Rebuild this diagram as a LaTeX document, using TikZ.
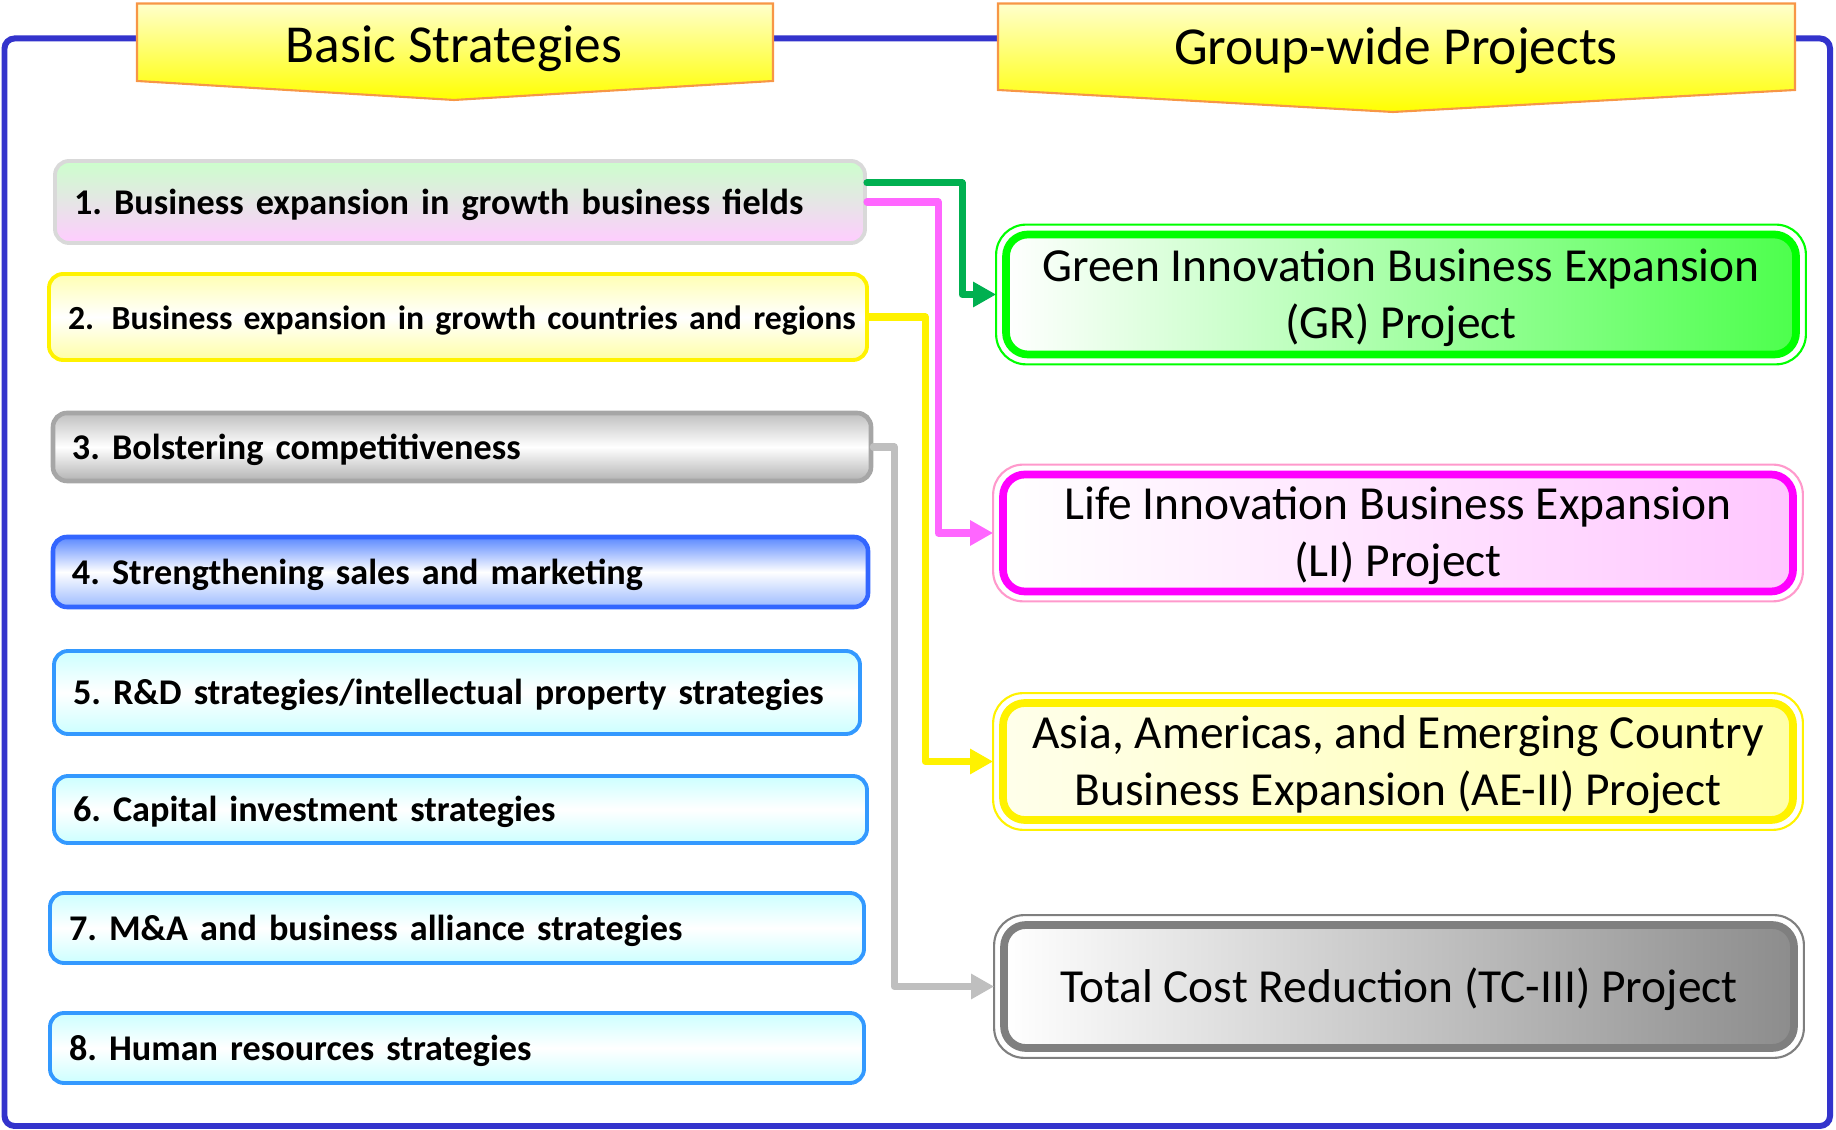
\documentclass[tikz,border=0pt]{standalone}
\usepackage{fontspec}
\setmainfont{Carlito}
\usepackage{tikz}
\usetikzlibrary{arrows.meta}

\definecolor{frameblue}{HTML}{3333CC}
\definecolor{hdrorange}{HTML}{F79646}
\definecolor{hdrlight}{HTML}{FFFFCC}
\definecolor{linkgreen}{HTML}{00B050}
\definecolor{linkpink}{HTML}{FF66FF}
\definecolor{linkgrey}{HTML}{BFBFBF}
\definecolor{lightmint}{HTML}{CCFFCC}
\definecolor{lightpink}{HTML}{FFCCFF}
\definecolor{lightcyan}{HTML}{CCFFFF}
\definecolor{skyblue}{HTML}{3399FF}
\definecolor{royal}{HTML}{3366FF}
\definecolor{royallight}{HTML}{5A88FF}
\definecolor{royalpale}{HTML}{9DBBFF}
\definecolor{projgrey}{HTML}{7F7F7F}
\definecolor{projpink}{HTML}{FF00FF}
\definecolor{thinpink}{HTML}{FF99CC}

\begin{document}
\begin{tikzpicture}[
	hdr/.style={draw=hdrorange, line width=0.6pt, top color=hdrlight, bottom color=yellow},
	hdrtext/.style={font=\fontsize{15.2}{18}\selectfont},
	strat/.style={draw, rounded corners=0.14cm, line width=1.1pt, inner xsep=0.19cm,
		text height=7.7pt, text depth=0.6pt,
		align=left, font=\fontsize{10.3}{12.4}\selectfont\bfseries\frenchspacing},
	cyanbox/.style={strat, draw=skyblue, top color=lightcyan, bottom color=lightcyan, middle color=white},
	proj/.style={draw, line width=2.2pt, rounded corners=0.22cm, minimum width=7.9cm,
		text depth=0.6pt, align=center, font=\fontsize{13.5}{16.2}\selectfont},
	link/.style={line width=2pt, line join=round, line cap=round,
		-{Triangle[length=0.23cm, width=0.24cm]}, shorten >=0.06cm}
	]
	\useasboundingbox (0,0) rectangle (18.36,-11.30);
	
	% outer frame
	\draw[frameblue, line width=1.7pt, rounded corners=0.1cm] (0.045,-0.385) rectangle (18.30,-11.26);
	
	% headers
	\draw[hdr] (1.37,-0.035) -- (7.73,-0.035) -- (7.73,-0.81) -- (4.54,-1.00) -- (1.37,-0.81) -- cycle;
	\node[hdrtext] (hBS) at (4.54,-0.485) {Basic Strategies};
	\draw[hdr] (9.98,-0.035) -- (17.95,-0.035) -- (17.95,-0.90) -- (13.93,-1.12) -- (9.98,-0.90) -- cycle;
	\node[hdrtext] (hGP) at (13.96,-0.505) {Group-wide Projects};
	
	% basic strategies (left)
	\node[strat, draw=black!15, top color=lightmint, bottom color=lightpink,
		text width=7.72cm, minimum height=0.82cm] (S1) at (4.60,-2.02)
		{1. Business expansion in growth business fields};
	\node[strat, draw=yellow, top color=yellow!30, bottom color=yellow!35, middle color=white,
		font=\fontsize{9.6}{12}\selectfont\bfseries\frenchspacing,
		text width=7.80cm, minimum height=0.86cm] (S2) at (4.58,-3.17)
		{\mbox{2.\hspace{0.52em}Business expansion in growth countries and regions}};
	\node[strat, draw=black!35, line width=1.3pt, top color=black!25, bottom color=black!30, middle color=white,
		text width=7.80cm, minimum height=0.68cm] (S3) at (4.62,-4.47)
		{3. Bolstering competitiveness};
	\node[strat, draw=royal, line width=1.3pt, top color=royallight, bottom color=royalpale, middle color=white,
		text width=7.77cm, minimum height=0.70cm] (S4) at (4.605,-5.72)
		{4. Strengthening sales and marketing};
	\node[cyanbox, text width=7.68cm, minimum height=0.83cm] (S5) at (4.57,-6.925)
		{\mbox{5. R\&D strategies/intellectual property strategies}};
	\node[cyanbox, text width=7.75cm, minimum height=0.67cm] (S6) at (4.605,-8.095)
		{6. Capital investment strategies};
	\node[cyanbox, text width=7.76cm, minimum height=0.70cm] (S7) at (4.57,-9.28)
		{7. M\&A and business alliance strategies};
	\node[cyanbox, text width=7.76cm, minimum height=0.70cm] (S8) at (4.57,-10.48)
		{8. Human resources strategies};
	
	% group-wide projects (right)
	\node[proj, draw=green, left color=white, right color=green!70!white,
		minimum height=1.20cm] (GR) at (14.01,-2.945)
		{Green Innovation Business Expansion\\(GR) Project};
	\node[proj, draw=projpink, left color=white, right color=projpink!22!white,
		minimum height=1.17cm] (LI) at (13.98,-5.33)
		{Life Innovation Business Expansion\\(LI) Project};
	\node[proj, draw=yellow, left color=yellow!8, right color=yellow!35,
		minimum height=1.17cm] (AE) at (13.98,-7.615)
		{Asia, Americas, and Emerging Country\\Business Expansion (AE-II) Project};
	\node[proj, draw=projgrey, left color=white, right color=black!45,
		minimum height=1.23cm] (TC) at (13.99,-9.865)
		{Total Cost Reduction (TC-III) Project};
	\foreach \n/\c in {GR/green, LI/thinpink, AE/yellow, TC/projgrey}{
		\draw[\c, line width=0.6pt, rounded corners=0.3cm]
			([shift={(-0.06,0.06)}]\n.north west) rectangle ([shift={(0.06,-0.06)}]\n.south east);
	}
	
	% connectors
	\draw[link, linkgreen] ([yshift=0.19cm]S1.east) -| ([xshift=-0.40cm]GR.west) -- (GR.west);
	\draw[link, linkpink] (S1.east) -| ([xshift=-0.61cm]LI.west) -- (LI.west);
	\draw[link, yellow] (S2.east) -| ([xshift=-0.74cm]AE.west) -- (AE.west);
	\draw[link, linkgrey] (S3.east) -| ([xshift=-1.06cm]TC.west) -- (TC.west);
\end{tikzpicture}
\end{document}
